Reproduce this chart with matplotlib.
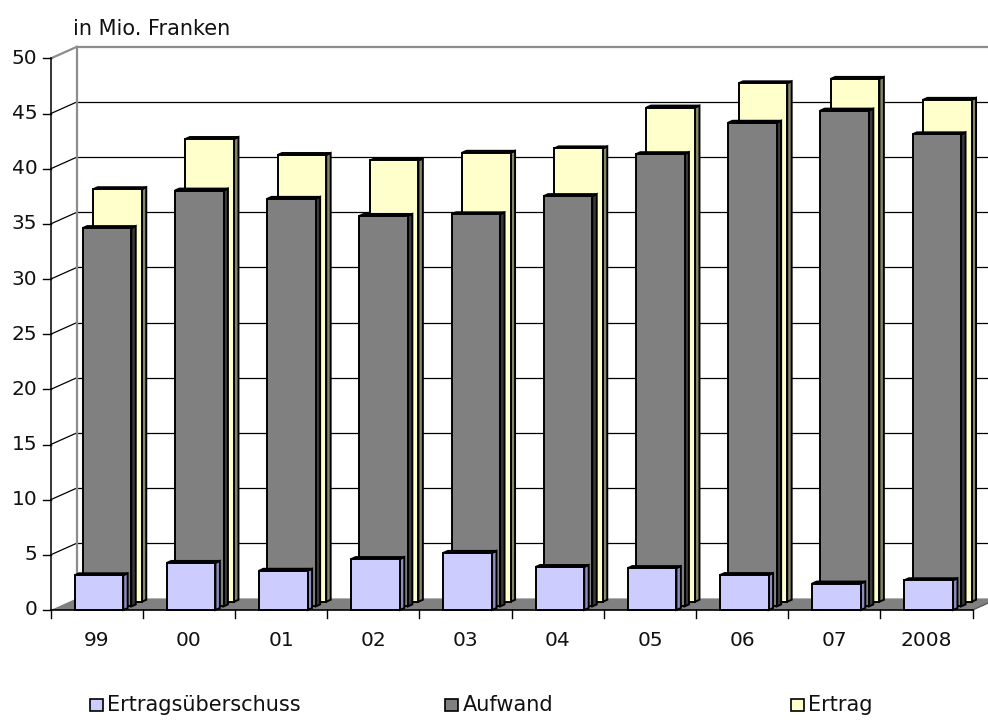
import matplotlib
matplotlib.use("Agg")
import matplotlib.pyplot as plt
from matplotlib.patches import Polygon, Rectangle

# Data (in Mio. Franken)
years = ["99", "00", "01", "02", "03", "04", "05", "06", "07", "2008"]
ertragsueberschuss = [3.15, 4.27, 3.56, 4.62, 5.18, 3.9, 3.8, 3.17, 2.4, 2.7]
aufwand = [34.3, 37.7, 36.95, 35.4, 35.55, 37.2, 41.0, 43.85, 44.95, 42.8]
ertrag = [37.4, 41.95, 40.5, 40.0, 40.7, 41.1, 44.8, 47.0, 47.4, 45.5]
series_names = ["Ertragsüberschuss", "Aufwand", "Ertrag"]
y_ticks = [0, 5, 10, 15, 20, 25, 30, 35, 40, 45, 50]
unit_label = "in Mio. Franken"

# Oblique projection: full depth of the plot box shifts by (DX, DY) in data units
DX, DY = 0.282, 1.05

def proj(x, v, t):
    return (x + t * DX, v + t * DY)

face_colors = {"lav": "#CCCCFF", "gray": "#808080", "yel": "#FFFFCC"}
side_colors = {"lav": "#8C8CBE", "gray": "#3A3A3A", "yel": "#86866A"}
top_colors = {"lav": "#A6A6D9", "gray": "#5A5A5A", "yel": "#D9D9A6"}

fig = plt.figure(figsize=(9.88, 7.2), dpi=100)
ax = fig.add_axes([0, 0, 1, 1])
ax.set_xlim(-0.5499, 10.166)
ax.set_ylim(-9.973, 55.30)
ax.axis("off")

z = 1
# floor
ax.add_patch(Polygon([proj(0, 0, 0), proj(10, 0, 0), proj(10, 0, 1), proj(0, 0, 1)],
                     closed=True, facecolor="#808080", edgecolor="none", zorder=z))
ax.plot([10, 10 + DX], [0, DY], color="#555555", lw=0.9, zorder=z)

# back wall gridlines, left wall connectors
for v in y_ticks[1:]:
    col = "#8C8C8C" if v == 50 else "black"
    lw = 1.6 if v == 50 else 0.9
    ax.plot([DX, 10 + DX + 1], [v + DY, v + DY], color=col, lw=lw, zorder=z)
    ax.plot([0, DX], [v, v + DY], color=col, lw=lw, zorder=z)
ax.plot([DX, DX], [DY, 50 + DY], color="#8C8C8C", lw=1.6, zorder=z)

# bars: back row first
rows = [("yel", ertrag, 0.715), ("gray", aufwand, 0.31), ("lav", ertragsueberschuss, 0.0)]
dt = 0.17
x_left, x_right = 0.26, 0.787
z = 3
for key, vals, t0 in rows:
    for i, v in enumerate(vals):
        x0, x1 = i + x_left, i + x_right
        front = [proj(x0, 0, t0), proj(x1, 0, t0), proj(x1, v, t0), proj(x0, v, t0)]
        side = [proj(x1, 0, t0), proj(x1, 0, t0 + dt), proj(x1, v, t0 + dt), proj(x1, v, t0)]
        top = [proj(x0, v, t0), proj(x1, v, t0), proj(x1, v, t0 + dt), proj(x0, v, t0 + dt)]
        for poly, fc in ((side, side_colors[key]), (top, top_colors[key]), (front, face_colors[key])):
            ax.add_patch(Polygon(poly, closed=True, facecolor=fc, edgecolor="black",
                                 lw=1.4, joinstyle="miter", zorder=z))
    z += 1

# front axes
ax.plot([0, 0], [0, 50], color="black", lw=1.1, zorder=z)
ax.plot([0, 10], [0, 0], color="black", lw=1.2, zorder=z)
for v in y_ticks:
    ax.plot([-0.08, 0], [v, v], color="black", lw=1.0, zorder=z)
    ax.text(-0.145, v, str(v), ha="right", va="center", fontsize=14.5,
            family="DejaVu Sans", color="#111111")
for i in range(len(years) + 1):
    ax.plot([i, i], [0, -0.7], color="black", lw=1.0, zorder=z)
for i, lab in enumerate(years):
    ax.text(i + 0.5, -2.75, lab, ha="center", va="center", fontsize=14.5,
            family="DejaVu Sans", color="#111111")

ax.text(0.242, 52.15, unit_label, ha="left", va="baseline", fontsize=15,
        family="DejaVu Sans", color="#111111")

# legend
legend_x = [0.43, 4.28, 8.03]
legend_keys = ["lav", "gray", "yel"]
sq_w, sq_h = 0.135, 1.15
ly = -8.6
for lx, key, name in zip(legend_x, legend_keys, series_names):
    ax.add_patch(Rectangle((lx, ly - sq_h / 2), sq_w, sq_h, facecolor=face_colors[key],
                           edgecolor="black", lw=1.2, zorder=z))
    ax.text(lx + sq_w + 0.05, ly, name, ha="left", va="center", fontsize=15,
            family="DejaVu Sans", color="#111111")

fig.savefig("out.png", dpi=100, facecolor="white")
